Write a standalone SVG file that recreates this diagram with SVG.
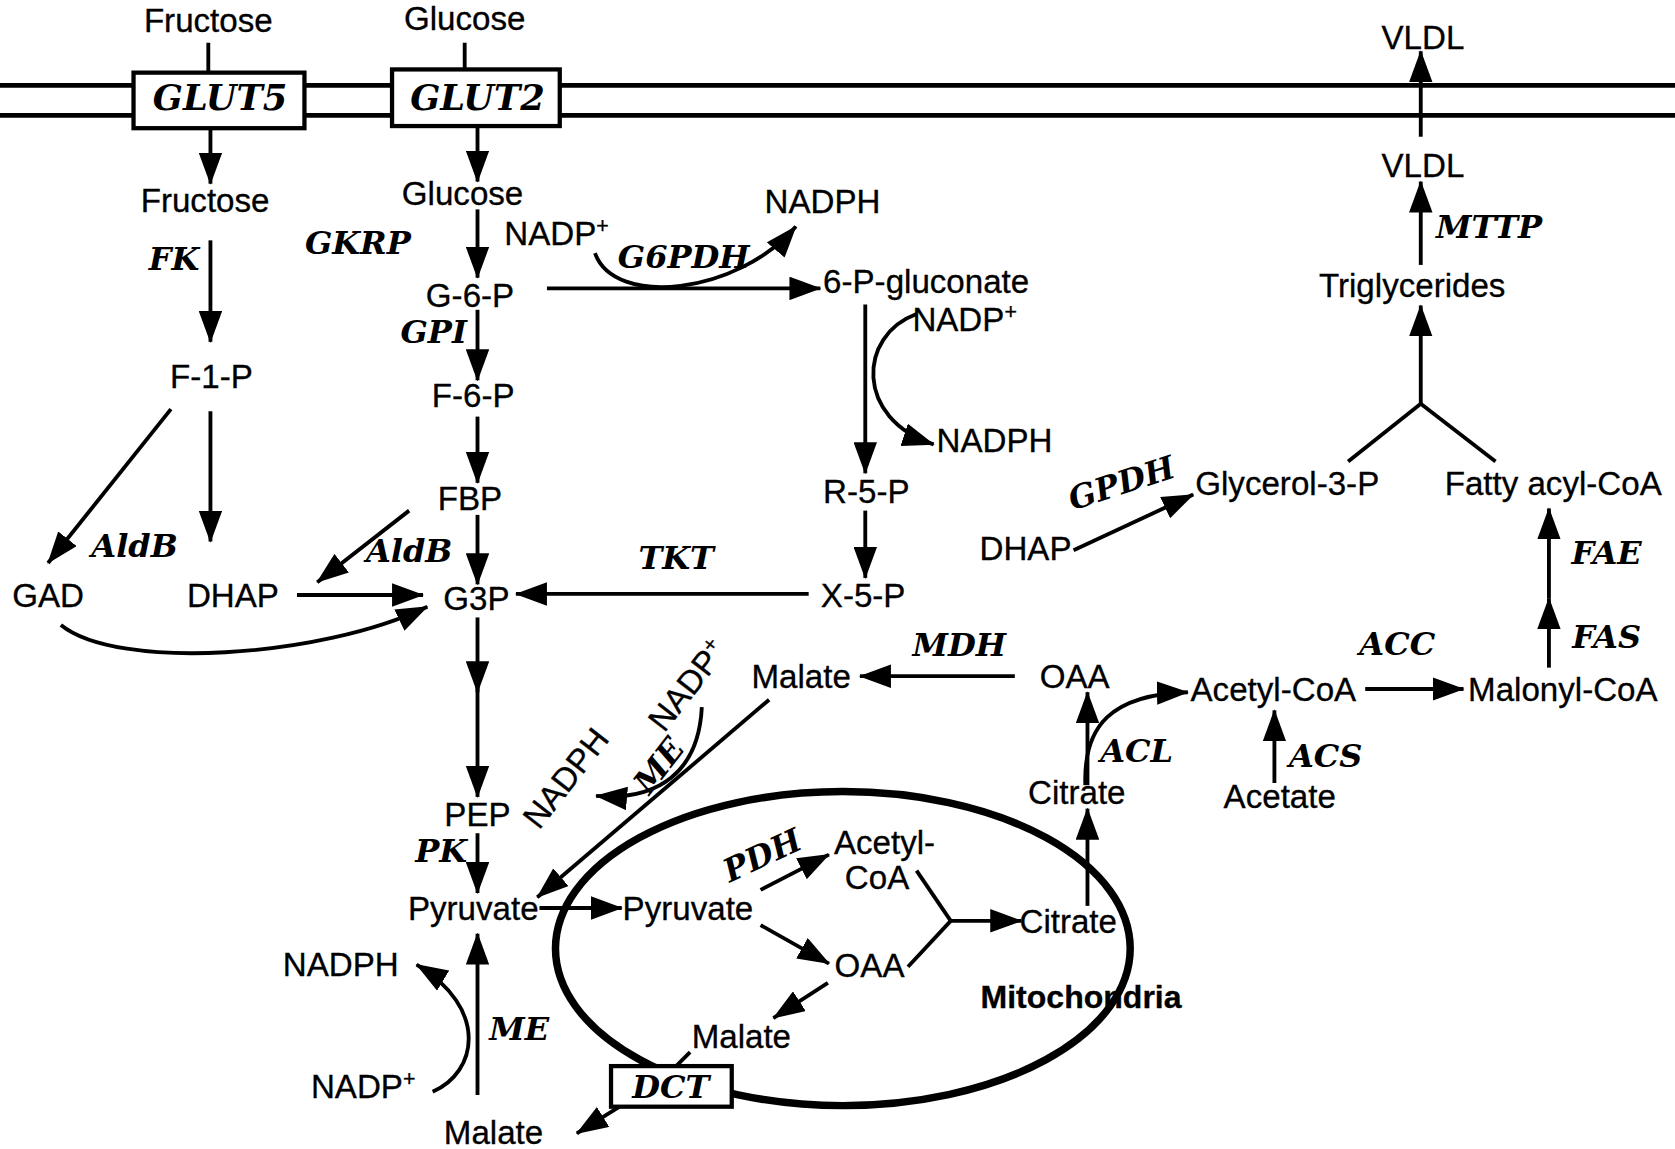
<svg xmlns="http://www.w3.org/2000/svg" width="1675" height="1149" viewBox="0 0 1675 1149">
<defs>
<marker id="ah" viewBox="0 0 30 22" refX="29" refY="11" markerWidth="30" markerHeight="22" orient="auto" markerUnits="userSpaceOnUse"><path d="M0,0 L30,11 L0,22 z" fill="#000"/></marker>
<style>
.t{font-family:"Liberation Sans",Arial,sans-serif;font-size:31px;fill:#000;stroke:#000;stroke-width:0.3;text-anchor:middle}
.e{font-family:"DejaVu Serif","Liberation Serif",serif;font-weight:bold;font-style:italic;font-size:30px;fill:#000;text-anchor:middle}
.c{fill:none;stroke:#000;stroke-width:3.6}
.a{fill:none;stroke:#000;stroke-width:3.6;marker-end:url(#ah)}
.sup{font-size:20px}
</style>
</defs>
<rect width="1675" height="1149" fill="#fff"/>
<g transform="scale(1.06824)">
<g id="membrane">
<line x1="0" y1="80" x2="1568" y2="80" stroke="#000" stroke-width="4.5"/>
<line x1="0" y1="108" x2="1568" y2="108" stroke="#000" stroke-width="4.5"/>
</g>
<g id="mitochondria">
<text class="t" x="1012" y="944" style="font-weight:bold;font-size:30px">Mitochondria</text>
<ellipse cx="789" cy="888" rx="269" ry="147" fill="none" stroke="#000" stroke-width="7"/>
</g>
<g id="connectors">
<line class="c" x1="195" y1="40" x2="195" y2="68"/>
<line class="c" x1="435" y1="40" x2="435" y2="65"/>
<line class="a" x1="197" y1="120" x2="197" y2="172"/>
<line class="a" x1="447" y1="118" x2="447" y2="170"/>
<line class="a" x1="197" y1="225" x2="197" y2="320"/>
<line class="a" x1="447" y1="196" x2="447" y2="260"/>
<line class="a" x1="447" y1="290" x2="447" y2="356"/>
<line class="a" x1="447" y1="390" x2="447" y2="452"/>
<line class="a" x1="447" y1="482" x2="447" y2="547"/>
<line class="a" x1="447" y1="578" x2="447" y2="648"/>
<line class="a" x1="447" y1="640" x2="447" y2="746"/>
<line class="a" x1="447" y1="780" x2="447" y2="836"/>
<line class="a" x1="447" y1="1025" x2="447" y2="874"/>
<line class="a" x1="160" y1="383" x2="45" y2="527"/>
<line class="a" x1="197" y1="385" x2="197" y2="507"/>
<line class="a" x1="278" y1="557" x2="396" y2="557"/>
<line class="a" x1="383" y1="478" x2="297" y2="545"/>
<path class="a" d="M57,585 C110,628 300,616 400,568"/>
<line class="a" x1="757" y1="556" x2="483" y2="556"/>
<line class="a" x1="512" y1="270" x2="768" y2="270"/>
<path class="a" d="M557,237 C575,288 690,276 745,212"/>
<line class="a" x1="810" y1="285" x2="810" y2="443"/>
<path class="a" d="M858,294 C803,314 800,392 874,416"/>
<line class="a" x1="810" y1="478" x2="810" y2="541"/>
<line class="a" x1="505" y1="850" x2="582" y2="850"/>
<line class="a" x1="720" y1="655" x2="503" y2="840"/>
<path class="a" d="M657,662 C654,722 617,750 558,745"/>
<path class="a" d="M405,1022 C447,1004 458,944 390,903"/>
<line class="a" x1="712" y1="833" x2="776" y2="800"/>
<line class="a" x1="712" y1="866" x2="776" y2="902"/>
<line class="c" x1="858" y1="815" x2="890" y2="862"/>
<line class="c" x1="850" y1="905" x2="890" y2="862"/>
<line class="a" x1="890" y1="862" x2="956" y2="862"/>
<line class="a" x1="775" y1="920" x2="724" y2="953"/>
<line class="c" x1="646" y1="985" x2="632" y2="999"/>
<line class="a" x1="580" y1="1036" x2="540" y2="1061"/>
<line class="a" x1="1018" y1="848" x2="1018" y2="757"/>
<line class="a" x1="1018" y1="735" x2="1018" y2="648"/>
<path class="a" d="M1016,735 C1014,680 1040,650 1112,648"/>
<line class="a" x1="950" y1="633" x2="805" y2="633"/>
<line class="a" x1="1278" y1="645" x2="1370" y2="645"/>
<line class="a" x1="1193" y1="733" x2="1193" y2="665"/>
<line class="a" x1="1450" y1="625" x2="1450" y2="560"/>
<line class="a" x1="1450" y1="560" x2="1450" y2="476"/>
<line class="a" x1="1005" y1="515" x2="1117" y2="463"/>
<line class="c" x1="1262" y1="432" x2="1330" y2="378"/>
<line class="c" x1="1400" y1="432" x2="1330" y2="378"/>
<line class="a" x1="1330" y1="380" x2="1330" y2="286"/>
<line class="a" x1="1330" y1="248" x2="1330" y2="170"/>
<line class="a" x1="1330" y1="128" x2="1330" y2="48"/>
</g>
<g id="GLUT5"><rect x="125" y="68" width="160" height="52" fill="#fff" stroke="#000" stroke-width="4"/><text class="e" x="206" y="103" style="font-size:33px">GLUT5</text></g>
<g id="GLUT2"><rect x="367" y="65" width="157" height="53" fill="#fff" stroke="#000" stroke-width="4"/><text class="e" x="447" y="103" style="font-size:33px">GLUT2</text></g>
<g id="DCT"><rect x="572" y="998" width="113" height="38" fill="#fff" stroke="#000" stroke-width="4"/><text class="e" x="628" y="1028">DCT</text></g>
<g id="n-fructose-out"><text class="t" x="195" y="30">Fructose</text></g>
<g id="n-glucose-out"><text class="t" x="435" y="28">Glucose</text></g>
<g id="n-fructose"><text class="t" x="192" y="198">Fructose</text></g>
<g id="n-glucose"><text class="t" x="433" y="192">Glucose</text></g>
<g id="n-f1p"><text class="t" x="198" y="363">F-1-P</text></g>
<g id="n-g6p"><text class="t" x="440" y="287">G-6-P</text></g>
<g id="n-f6p"><text class="t" x="443" y="381">F-6-P</text></g>
<g id="n-fbp"><text class="t" x="440" y="477">FBP</text></g>
<g id="n-g3p"><text class="t" x="446" y="571">G3P</text></g>
<g id="n-gad"><text class="t" x="45" y="568">GAD</text></g>
<g id="n-dhap"><text class="t" x="218" y="568">DHAP</text></g>
<g id="n-pep"><text class="t" x="447" y="773">PEP</text></g>
<g id="n-pyruvate"><text class="t" x="443" y="861">Pyruvate</text></g>
<g id="n-nadph-bl"><text class="t" x="319" y="914">NADPH</text></g>
<g id="n-nadp-bl"><text class="t" x="340" y="1028">NADP<tspan class="sup" dy="-11">+</tspan></text></g>
<g id="n-malate-out"><text class="t" x="462" y="1071">Malate</text></g>
<g id="n-pyruvate-mito"><text class="t" x="644" y="861">Pyruvate</text></g>
<g id="n-acetylcoa-mito"><text class="t" x="828" y="799">Acetyl-</text><text class="t" x="821" y="832">CoA</text></g>
<g id="n-oaa-mito"><text class="t" x="814" y="915">OAA</text></g>
<g id="n-citrate-mito"><text class="t" x="1000" y="873">Citrate</text></g>
<g id="n-malate-mito"><text class="t" x="694" y="981">Malate</text></g>
<g id="n-malate"><text class="t" x="750" y="644">Malate</text></g>
<g id="n-oaa"><text class="t" x="1006" y="644">OAA</text></g>
<g id="n-citrate"><text class="t" x="1008" y="753">Citrate</text></g>
<g id="n-acetylcoa"><text class="t" x="1192" y="656">Acetyl-CoA</text></g>
<g id="n-acetate"><text class="t" x="1198" y="756">Acetate</text></g>
<g id="n-malonylcoa"><text class="t" x="1463" y="656">Malonyl-CoA</text></g>
<g id="n-dhap-r"><text class="t" x="960" y="524">DHAP</text></g>
<g id="n-glycerol3p"><text class="t" x="1205" y="463">Glycerol-3-P</text></g>
<g id="n-fattyacylcoa"><text class="t" x="1454" y="463">Fatty acyl-CoA</text></g>
<g id="n-triglycerides"><text class="t" x="1322" y="278">Triglycerides</text></g>
<g id="n-vldl"><text class="t" x="1332" y="166">VLDL</text></g>
<g id="n-vldl-out"><text class="t" x="1332" y="46">VLDL</text></g>
<g id="n-nadp-top"><text class="t" x="521" y="229">NADP<tspan class="sup" dy="-11">+</tspan></text></g>
<g id="n-nadph-top"><text class="t" x="770" y="199">NADPH</text></g>
<g id="n-6pg"><text class="t" x="867" y="274">6-P-gluconate</text></g>
<g id="n-nadp-r"><text class="t" x="903" y="310">NADP<tspan class="sup" dy="-11">+</tspan></text></g>
<g id="n-nadph-r"><text class="t" x="931" y="423">NADPH</text></g>
<g id="n-r5p"><text class="t" x="811" y="471">R-5-P</text></g>
<g id="n-x5p"><text class="t" x="808" y="568">X-5-P</text></g>
<g id="n-nadp-rot"><text class="t" transform="translate(652,648) rotate(-52)" x="0" y="0">NADP<tspan class="sup" dy="-11">+</tspan></text></g>
<g id="n-nadph-rot"><text class="t" transform="translate(538,735) rotate(-52)" x="0" y="0">NADPH</text></g>
<g id="enzymes">
<text class="e" x="163" y="253">FK</text>
<text class="e" x="335" y="238">GKRP</text>
<text class="e" x="406" y="321">GPI</text>
<text class="e" x="126" y="521">AldB</text>
<text class="e" x="383" y="526">AldB</text>
<text class="e" x="640" y="251">G6PDH</text>
<text class="e" x="633" y="533">TKT</text>
<text class="e" x="413" y="807">PK</text>
<text class="e" x="486" y="974">ME</text>
<text class="e" transform="translate(625,723) rotate(-52)" x="0" y="0">ME</text>
<text class="e" transform="translate(718,810) rotate(-25)" x="0" y="0">PDH</text>
<text class="e" x="898" y="614">MDH</text>
<text class="e" x="1064" y="713">ACL</text>
<text class="e" x="1241" y="718">ACS</text>
<text class="e" x="1308" y="613">ACC</text>
<text class="e" x="1504" y="607">FAS</text>
<text class="e" x="1504" y="528">FAE</text>
<text class="e" x="1394" y="223">MTTP</text>
<text class="e" transform="translate(1053,462) rotate(-18)" x="0" y="0">GPDH</text>
</g>
</g>
</svg>
